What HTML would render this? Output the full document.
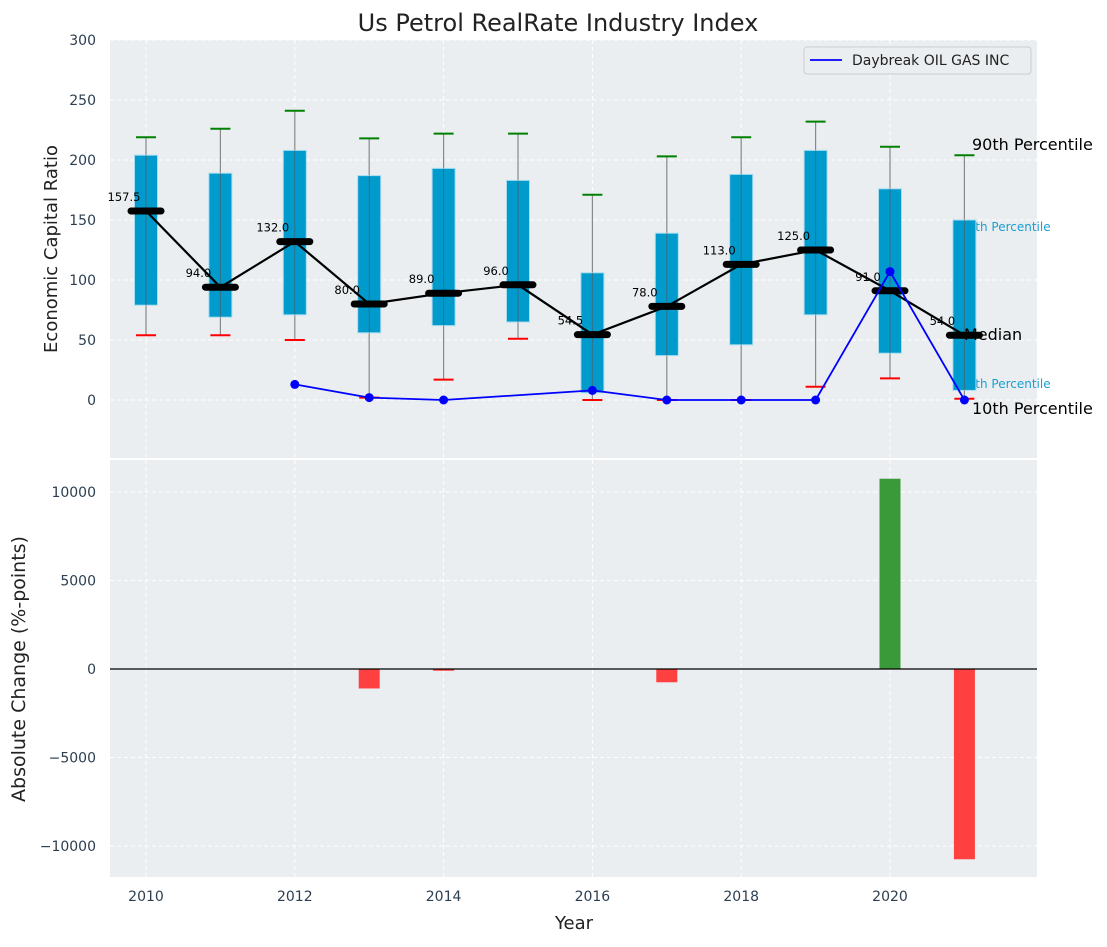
<!DOCTYPE html>
<html><head><meta charset="utf-8"><style>
body{margin:0;background:#fff;font-family:"Liberation Sans","DejaVu Sans",sans-serif;}
svg text{font-family:"DejaVu Sans","Liberation Sans",sans-serif;}
</style></head><body>
<svg id="c" width="1107" height="942" xmlns="http://www.w3.org/2000/svg"></svg>
<script>
const years=[2010,2011,2012,2013,2014,2015,2016,2017,2018,2019,2020,2021];
const p90=[219,226,241,218,222,222,171,203,219,232,211,204];
const p75=[204,189,208,187,193,183,106,139,188,208,176,150];
const med=[157.5,94,132,80,89,96,54.5,78,113,125,91,54];
const p25=[79,69,71,56,62,65,6,37,46,71,39,8];
const p10=[54,54,50,2,17,51,0,0,0,11,18,1];
const dbYears=[2012,2013,2014,2016,2017,2018,2019,2020,2021];
const dbVals=[13,2,0,8,0,0,0,107,0];
const chgYears=[2013,2014,2017,2020,2021];
const chgVals=[-1100,-100,-750,10750,-10750];
const yTicksTop=[0,50,100,150,200,250,300];
const yTicksBot=[-10000,-5000,0,5000,10000];
const xTicks=[2010,2012,2014,2016,2018,2020];

const svg=document.getElementById('c');const NS='http://www.w3.org/2000/svg';
function el(t,a,p){const e=document.createElementNS(NS,t);for(const k in a)e.setAttribute(k,a[k]);(p||svg).appendChild(e);return e;}
const X=y=>146+(y-2010)*74.4;
const Y1=v=>400-v*1.2;
const Y2=v=>669-v*0.0177;
const L=110,R=1037;

let bg1=el('rect',{x:L,y:40,width:R-L,height:418,fill:'#eaeef0'});


let bg2=el('rect',{x:L,y:460,width:R-L,height:417,fill:'#eaeef0'});



xTicks.forEach(t=>{
  [[40,458],[460,877]].forEach(r=>{let g=el('line',{x1:X(t),x2:X(t),y1:r[0],y2:r[1],stroke:'#fff','stroke-dasharray':'4,3','stroke-width':1});
  });
  let tx=el('text',{x:X(t),y:901,'text-anchor':'middle','font-size':14,fill:'#2c3e50'});tx.textContent=t;
  
});
yTicksTop.forEach(t=>{
  let g=el('line',{x1:L,x2:R,y1:Y1(t),y2:Y1(t),stroke:'#fff','stroke-dasharray':'4,3'});
  
  let tx=el('text',{x:96,y:Y1(t)+5,'text-anchor':'end','font-size':14,fill:'#2c3e50'});tx.textContent=t;
  
});
yTicksBot.forEach(t=>{
  let g=el('line',{x1:L,x2:R,y1:Y2(t),y2:Y2(t),stroke:'#fff','stroke-dasharray':'4,3'});
  
  let tx=el('text',{x:96,y:Y2(t)+5,'text-anchor':'end','font-size':14,fill:'#2c3e50'});tx.textContent=(t<0?'\u2212'+(-t):t);
  
});

const lblBack=[[960,231,'75th Percentile',12,'#1a9fd0'],[960,388,'25th Percentile',12,'#1a9fd0']];
lblBack.forEach(l=>{let t=el('text',{x:l[0],y:l[1],'font-size':l[3],fill:l[4]});t.textContent=l[2];
});

years.forEach((y,i)=>{
  const x=X(y);
  let w=el('line',{x1:x,x2:x,y1:Y1(p90[i]),y2:Y1(p10[i]),stroke:'#888','stroke-width':1.2});
  
  let c1=el('line',{x1:x-10,x2:x+10,y1:Y1(p90[i]),y2:Y1(p90[i]),stroke:'green','stroke-width':2});
  
  let c2=el('line',{x1:x-10,x2:x+10,y1:Y1(p10[i]),y2:Y1(p10[i]),stroke:'red','stroke-width':2});
  
  let b=el('rect',{x:x-11.5,y:Y1(p75[i]),width:23,height:Y1(p25[i])-Y1(p75[i]),fill:'#009acd',stroke:'#a8dcef','stroke-width':1});
  
  let w2=el('line',{x1:x,x2:x,y1:Y1(p75[i]),y2:Y1(p25[i]),stroke:'#555','stroke-width':1,opacity:0.6});
  
});
const lblFront=[[972,150,'90th Percentile',16,'#000'],[964,340,'Median',16,'#000'],[972,414,'10th Percentile',16,'#000']];
lblFront.forEach(l=>{let t=el('text',{x:l[0],y:l[1],'font-size':l[3],fill:l[4]});t.textContent=l[2];
});

let mp=el('polyline',{points:years.map((y,i)=>X(y)+','+Y1(med[i])).join(' '),fill:'none',stroke:'#000','stroke-width':2.2});

years.forEach((y,i)=>{
  let m=el('line',{x1:X(y)-15,x2:X(y)+15,y1:Y1(med[i]),y2:Y1(med[i]),stroke:'#000','stroke-width':7,'stroke-linecap':'round'});
  
  let t=el('text',{x:X(y)-22,y:Y1(med[i])-10,'text-anchor':'middle','font-size':11.5,fill:'#000'});t.textContent=med[i].toFixed(1);
  
});
let dl=el('polyline',{points:dbYears.map((y,i)=>X(y)+','+Y1(dbVals[i])).join(' '),fill:'none',stroke:'blue','stroke-width':1.8});

dbYears.forEach((y,i)=>{let c=el('circle',{cx:X(y),cy:Y1(dbVals[i]),r:4.5,fill:'blue'});
});

let lg=el('g',{});
el('rect',{x:804,y:47,width:227,height:27,rx:3,fill:'#eaeef0',stroke:'#ccc'},lg);
el('line',{x1:810,x2:842,y1:60,y2:60,stroke:'blue','stroke-width':1.8},lg);
let lt=el('text',{x:852,y:65,'font-size':14,fill:'#222'},lg);lt.textContent='Daybreak OIL GAS INC';

chgYears.forEach((y,i)=>{const v=chgVals[i];
  let b=el('rect',{x:X(y)-10.5,y:Math.min(Y2(v),Y2(0)),width:21,height:Math.abs(Y2(v)-Y2(0)),fill:v>=0?'#3a9a3a':'#ff4040'});
  });
let zl=el('line',{x1:L,x2:R,y1:Y2(0),y2:Y2(0),stroke:'#000','stroke-width':1.2});


let tt=el('text',{x:558,y:31,'text-anchor':'middle','font-size':24,fill:'#222'});tt.textContent='Us Petrol RealRate Industry Index';

let yt=el('text',{x:0,y:0,'text-anchor':'middle','font-size':18,fill:'#222',transform:'translate(57,249) rotate(-90)'});yt.textContent='Economic Capital Ratio';

let yb=el('text',{x:0,y:0,'text-anchor':'middle','font-size':19,fill:'#222',transform:'translate(25,669) rotate(-90)'});yb.textContent='Absolute Change (%-points)';

let xt=el('text',{x:574,y:929,'text-anchor':'middle','font-size':18,fill:'#222'});xt.textContent='Year';

</script>
</body></html>
